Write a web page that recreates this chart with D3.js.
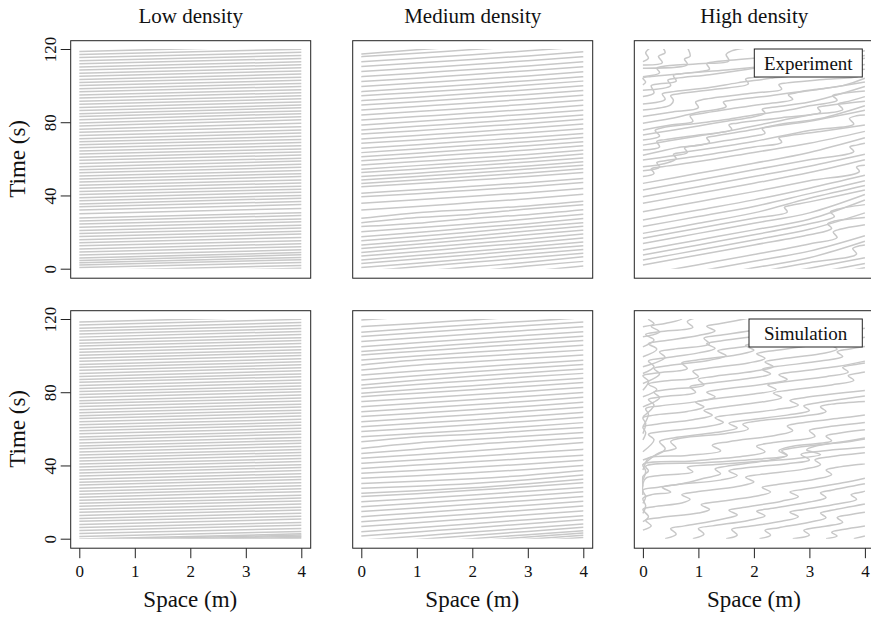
<!DOCTYPE html>
<html>
<head>
<meta charset="utf-8">
<script src="https://d3js.org/d3.v7.min.js"></script>
<title>Trajectories</title>
<style>body{margin:0;background:#fff}</style>
</head>
<body>
<svg width="871" height="617"></svg>
<script>
// low density: [time at x=0, time at x=4]
const lowExp = [[-2.8,0.2],[-1.2,1.8],[0.6,3.4],[2.0,4.9],[3.3,6.1],[4.5,7.6],[5.9,8.8],[7.5,10.3],[9.1,12.0],[10.8,13.6],[12.5,15.3],[14.2,17.1],[15.8,18.9],[17.6,20.4],[19.2,22.2],[20.9,23.8],[22.6,25.6],[24.4,27.2],[26.0,29.1],[27.7,30.6],[30.0,32.9],[32.1,35.0],[33.8,36.7],[35.4,38.5],[37.1,40.0],[38.8,41.8],[40.5,43.4],[42.2,45.1],[43.9,46.8],[45.6,48.5],[47.3,50.3],[49.0,51.9],[50.7,53.6],[52.4,55.4],[54.1,57.0],[55.7,58.8],[57.5,60.3],[59.2,62.1],[60.9,63.8],[62.6,65.4],[64.3,67.2],[66.0,68.9],[67.7,70.6],[69.4,72.3],[71.0,74.1],[72.8,75.7],[74.5,77.6],[76.1,79.5],[77.9,81.3],[79.6,83.0],[81.4,84.7],[83.1,86.2],[84.7,87.9],[86.4,89.4],[88.1,91.1],[89.8,92.8],[91.5,94.4],[93.2,96.1],[94.9,97.8],[96.6,99.5],[98.3,101.2],[100.0,102.9],[101.7,104.6],[103.4,106.3],[105.1,108.0],[106.8,109.7],[108.5,111.4],[110.2,113.0],[111.9,114.8],[113.6,116.5],[115.3,118.2],[117.0,119.9],[118.7,121.6]];
const lowSim = [[-2.7,0.1],[-2.05,0.75],[-1.45,1.4],[-0.8,2.0],[-0.2,2.65],[1.2,4.0],[2.9,5.6],[4.5,7.4],[6.1,8.9],[7.8,10.7],[9.5,12.3],[11.1,13.9],[12.7,15.7],[14.4,17.2],[16.1,18.9],[17.7,20.6],[19.3,22.2],[21.0,23.8],[22.6,25.7],[24.3,27.3],[25.9,28.9],[27.6,30.6],[29.3,32.3],[30.9,33.9],[32.5,35.5],[34.2,37.2],[35.9,38.9],[37.5,40.4],[39.1,42.2],[40.8,43.8],[42.5,45.5],[44.1,47.1],[45.7,48.7],[47.4,50.4],[49.1,52.1],[50.7,53.7],[52.3,55.3],[54.0,57.1],[55.6,58.7],[57.3,60.3],[59.0,62.0],[60.6,63.6],[62.2,65.2],[63.9,67.0],[65.6,68.6],[67.2,70.2],[68.8,71.9],[70.5,73.5],[72.2,75.2],[73.8,76.8],[75.4,78.5],[77.1,80.2],[78.8,81.8],[80.4,83.4],[82.0,85.1],[83.7,86.7],[85.4,88.5],[87.0,90.0],[88.6,91.7],[90.3,93.4],[92.0,95.0],[93.6,96.6],[95.2,98.3],[96.9,100.0],[98.6,101.6],[100.2,103.2],[101.8,104.9],[103.5,106.6],[105.2,108.2],[106.8,109.8],[108.4,111.5],[110.1,113.2],[111.8,114.8],[113.4,116.4],[115.0,118.1],[116.7,119.8],[118.4,121.4]];

// medium density: times at x = 0, 1, 2, 3, 4
const medExp = [[-11.5,-9,-6.5,-3.5,-0.5],[-9,-6.5,-4,-1.5,1.5],[-6.5,-4,-1.5,1.5,4],[-4,-1.5,1,3.5,6.5],[-1.5,1,3.5,6,8.5],[0.7,3,5.5,8,10.5],[2.9,5.3,7.6,10.2,12.6],[4.7,7.2,9.5,12,14.6],[6.9,9.2,11.8,14.1,16.8],[8.9,11.4,13.7,16.2,18.9],[11.1,13.4,15.9,18.5,21],[12.9,15.2,17.8,20.6,23.2],[15.3,17.6,20.1,22.8,25.1],[17.5,19.8,22.3,24.6,27.4],[20.2,22.4,24.5,27.1,29.8],[23,24.8,27.6,29.5,32.2],[25.1,27.9,29.8,32.6,34.9],[27.5,30.6,32.4,34.3,36.8],[32.1,34.0,36.1,38.2,40.6],[35.7,37.6,39.6,41.5,43.8],[39.3,41.0,42.9,44.8,47.1],[41.2,43.1,45.0,47.0,49.2],[44.8,46.5,48.4,50.3,52.5],[46.6,48.5,50.3,52.3,54.6],[48.5,50.4,52.3,54.4,56.5],[50.3,52.2,54.2,56.1,58.4],[52.5,54.3,56.3,58.3,60.5],[54.3,56.3,58.1,60.2,62.6],[56.6,58.5,60.4,62.4,64.7],[59,60.9,62.9,64.8,67.1],[61.2,63.1,65.1,67.2,69.4],[63.4,65.4,67.4,69.3,71.6],[65.8,67.7,69.7,71.7,73.9],[68.5,70.3,72.3,74.3,76.4],[70.9,72.8,74.7,76.8,79],[73.6,75.4,77.4,79.3,81.6],[75.8,77.8,79.7,81.8,84],[78.5,80.4,82.4,84.4,86.6],[81.2,83.1,85.0,87.0,89.3],[84,85.8,87.8,89.8,92],[86.7,88.6,90.5,92.6,94.8],[89.4,91.2,93.2,95.2,97.4],[91.8,93.7,95.7,97.7,99.9],[94.4,96.3,98.2,100.3,102.5],[96.7,98.7,100.6,102.7,104.9],[99.5,101.4,103.3,105.3,107.6],[102.2,104.0,106.1,108.1,110.3],[104.9,106.8,108.8,110.7,113],[107.7,109.6,111.5,113.6,115.8],[110.4,112.3,114.3,116.2,118.5],[113.1,115.0,116.9,119.0,121.2],[115.8,117.7,119.7,121.6,124],[117.3,119.6,121.6,123.6,126]];
const medSim = [[-8.1,-5.9,-3.7,-1.5,0.7],[-6.9,-4.7,-2.5,-0.3,1.9],[-5.7,-3.5,-1.3,0.9,3.1],[-4.4,-2.2,0,2.2,4.4],[-2.6,-0.4,1.8,4,6.2],[-0.8,1.4,3.6,5.8,8],[1.5,3.7,5.9,8.2,10.4],[3.8,6.0,8.2,10.4,12.6],[6.6,8.7,10.9,13.1,15.2],[9.3,11.4,13.5,15.7,17.8],[12,14.1,16.2,18.3,20.4],[14.8,16.8,18.8,20.9,23],[17.5,19.4,21.4,23.5,25.6],[20.2,22,23.9,25.9,28],[23,24.6,26.4,28.4,30.6],[24.8,26.2,27.8,30,32.5],[27.5,28.6,30.1,32.2,34.8],[30.2,31.4,32.8,34.7,37.2],[33,34.4,36,37.8,40],[35.7,37.3,39,40.8,42.8],[38.4,40.2,42,43.8,45.6],[41.2,43,44.9,46.9,48.8],[43.9,45.8,47.9,50.2,52.5],[46.6,48.9,51.5,53.4,55.2],[49.3,52.3,54.2,56.1,58],[53,55.6,57.1,58.9,60.8],[55.7,57.4,59.3,61.3,63.4],[58.5,60.3,62.2,64.2,66.3],[61.2,63.0,64.9,66.9,69],[63.9,65.8,67.7,69.7,71.8],[66.7,68.5,70.4,72.4,74.5],[69.4,71.2,73.1,75.1,77.2],[72.1,74,75.9,77.8,79.9],[74.9,76.7,78.6,80.6,82.6],[77.6,79.5,81.4,83.3,85.3],[79.4,81.6,83.6,85.7,87.7],[82.1,84.2,86.3,88.4,90.3],[84,86.6,88.7,90.7,92.7],[86.7,89,91.2,93.2,95.1],[89.4,91.6,93.7,95.6,97.5],[92.2,94.8,96.7,98.5,100.3],[94.9,97.6,99.4,101.2,103],[97.6,99.8,101.8,103.7,105.6],[100.4,102.4,104.4,106.4,108.3],[102.2,104.5,106.6,108.7,110.6],[104.9,107,109.1,111.1,113.1],[107.7,109.8,111.8,113.8,115.8],[110.4,112.5,114.5,116.4,118.3],[112.8,114.9,116.9,118.8,120.7],[115.8,117.6,119.5,121.4,123.3],[119.5,121.4,123.3,125.2,127.1]];

// high density: [x, t] points of each trajectory
const highExp = [
  [[0,-21.5],[3,-5],[4,0.5]],
  [[0,-19.3],[3,-2.8],[4,2.8]],
  [[0,-16.2],[2,-5.2],[3,0.3],[4,6]],
  [[0,-13.2],[2,-2.2],[3,3.3],[3.85,8],[3.78,11],[3.9,12.5],[4,13]],
  [[0,-10.5],[1,-5],[2,0.5],[3,6],[4,15]],
  [[0,-6.9],[1,-1.4],[2,4.1],[3,9.6],[4,18]],
  [[0,-3.3],[1,2.2],[2,7.7],[3,13.5],[3.5,17],[3.43,20],[3.55,21.5],[4,24]],
  [[0,2],[1,7.5],[2,13],[3,18.5],[3.4,22],[3.33,24.5],[3.45,26],[4,28]],
  [[0,4.7],[1,10.2],[2,15.7],[3,21.5],[4,30.5]],
  [[0,7.5],[1,13],[2,18.5],[3,24.5],[3.45,28.5],[3.38,31],[3.5,32.5],[4,35]],
  [[0,10.2],[1,15.7],[2,21.2],[3,27],[4,37.5]],
  [[0,13.8],[1,19.3],[2,24.8],[3,30.5],[4,40.5]],
  [[0,16.6],[1,22.1],[2,27.6],[2.6,31],[2.55,33.5],[2.65,34.5],[3,36.5],[4,43]],
  [[0,19.3],[1,24.8],[2,30.5],[3,38.5],[4,45.5]],
  [[0,23],[1,28.5],[2,34],[3,41],[4,48]],
  [[0,26.6],[1,32.1],[2,37.6],[3,44],[4,51]],
  [[0,31.1],[1,36.6],[2,42.1],[3,48],[3.9,53],[3.85,55.5],[4,56.5]],
  [[0,35.7],[1,41.2],[2,46.7],[3,52.5],[4,59.5]],
  [[0,39.3],[1,44.8],[2,50.3],[3,56],[4,62.5]],
  [[0,43],[1,48.5],[2,54],[3,59.5],[3.8,64],[3.73,66.5],[3.85,67.5],[4,68.5]],
  [[0,46.6],[1,52.1],[2,57.6],[3,63.5],[4,71.5]],
  [[0,50.3],[0.2,52],[0.15,54.5],[0.3,55.5],[1,58.5],[2,63.5],[3,68.5],[4,75]],
  [[0,53.5],[0.3,55.5],[0.25,58],[0.4,59],[1,61.5],[2,66.5],[2.5,69],[2.45,71.5],[2.6,72.5],[3.2,75],[4,78.5]],
  [[0,55.7],[0.4,57.5],[0.6,60],[0.55,62.5],[0.7,63.5],[1.5,67],[2,69.5],[3,75.5],[3.8,79],[3.72,82],[3.85,83.5],[4,84]],
  [[0,59.4],[0.5,61.5],[0.8,63.5],[0.75,66],[0.9,67],[1.5,70],[2,72.5],[2.2,74],[2.15,76.5],[2.3,77.5],[3,80.5],[4,86.5]],
  [[0,62],[0.3,64],[0.6,66],[1.2,69],[1.15,71.5],[1.3,72.5],[2,76],[2.5,79],[3.2,82],[4,89]],
  [[0,64.8],[0.3,66.5],[0.25,69.5],[0.4,70.5],[1,73],[1.6,76],[1.55,78.5],[1.7,79.5],[2.5,82.5],[3.2,85.5],[3.15,88],[3.3,89],[4,91.5]],
  [[0,67.5],[0.5,70],[1,72.5],[1.5,75],[2,78],[2.5,81],[3,84],[3.6,87],[3.52,90],[3.65,91],[4,94]],
  [[0,70.3],[0.3,72.5],[0.22,75.5],[0.35,77],[1,79.5],[1.5,81.5],[2,84],[2.6,86.5],[3,89],[3.5,92],[3.42,94.5],[3.55,95.5],[4,97]],
  [[0,73],[0.5,75.5],[1,78],[1.5,80.5],[2,83],[2.2,85],[2.15,87],[2.3,88],[3,91],[4,99.5]],
  [[0,75.8],[0.5,78.5],[0.9,80.5],[0.85,83.5],[1,84.5],[1.5,87],[2.2,90],[2.7,92.5],[2.62,95],[2.75,96],[3.3,98.5],[4,102]],
  [[0,79.5],[0.5,82],[1,85.5],[1.5,88.5],[1.45,91],[1.6,92],[2.3,94.5],[3,97.5],[3.6,100],[4,104]],
  [[0,83.1],[0.5,85.5],[1,88],[0.95,91],[1.1,92.5],[2,96],[2.5,98],[2.45,100.5],[2.6,101.5],[3.3,103.5],[3.9,105.5],[3.85,108],[4,109]],
  [[0,86.7],[0.5,89.5],[0.55,92],[0.5,94.5],[0.65,95.5],[1.3,98],[1.9,101],[1.85,103.5],[2,104.5],[3,107.5],[4,111.5]],
  [[0,90],[0.4,92.5],[0.35,95.5],[0.5,96.5],[1.2,99],[1.7,101.5],[2.3,104],[2.8,106.5],[2.75,109],[2.9,110],[3.5,112.5],[4,115]],
  [[0,94],[0.2,96],[0.15,100],[0.3,101],[0.6,102.5],[0.55,105.5],[0.7,106.5],[1.5,108.5],[2.5,111.5],[3.5,114.5],[4,116.5]],
  [[0,97.5],[0.5,100],[0.45,103],[0.6,104],[1.2,106],[1.8,108.5],[2.5,112],[3.2,115],[4,119]],
  [[0,100.4],[0.05,102],[0,104],[0.15,105],[1,107.5],[1.2,109],[1.15,112],[1.3,113],[2.2,115.5],[3,118],[4,122]],
  [[0,104.9],[0.3,107],[0.25,109.5],[0.35,110.5],[1,112],[1.55,113.5],[1.5,117],[1.6,119],[2,121]],
  [[0,109.5],[0.8,111.5],[0.75,114.5],[0.85,116],[0.8,121]],
  [[0,111.3],[0.35,112.5],[0.28,116],[0.4,118],[0.35,121]],
  [[0,113.1],[0.1,115],[0.05,118],[0.15,121]]
];
const highSim = [
  [[3.8,0],[4,1.5]],
  [[3.3,0],[3.5,1.5],[3.4,3.5],[3.6,5],[4,7]],
  [[2.7,0],[3.0,2],[2.9,4.5],[3.1,6],[3.6,9],[3.5,11.5],[3.7,13],[4,14.5]],
  [[2.1,0],[2.3,2],[2.2,4.5],[2.45,6],[3.0,9],[3.3,11.5],[3.2,14],[3.4,15.5],[4,19]],
  [[1.5,0],[1.7,2],[1.6,5],[1.85,6.5],[2.5,9.5],[2.8,12],[2.65,14.5],[2.9,16],[3.5,19],[3.85,21.5],[3.75,24],[3.95,25.5],[4,26]],
  [[0.9,0],[1.1,2.5],[1.0,5.5],[1.25,7],[1.9,10],[2.2,12.5],[2.05,15],[2.3,16.5],[3,20],[3.3,22.5],[3.2,25],[3.4,26.5],[4,30]],
  [[0.4,0],[0.6,2.5],[0.5,5.5],[0.75,7],[1.4,10.5],[1.7,13],[1.55,15.5],[1.8,17],[2.5,20.5],[2.8,23],[2.65,25.5],[2.9,27],[3.6,30.5],[4,33]],
  [[0,4.7],[0.15,7],[0.05,10],[0.3,11.5],[1,14],[1.2,16],[1.05,18.5],[1.3,20],[2,23],[2.3,25.5],[2.15,28],[2.4,29.5],[3.1,32.5],[3.4,35],[3.3,37.5],[3.5,39],[4,41]],
  [[0,9.3],[0.1,12],[0,16],[0.2,17.5],[0.7,19.5],[0.85,21.5],[0.7,24],[0.95,25.5],[1.7,28.5],[2,31],[1.85,33.5],[2.1,35],[2.9,38],[3.2,40.5],[3.1,43],[3.3,44.5],[4,47]],
  [[0,13.8],[0.05,18],[0,22],[0.15,24],[0.5,25.5],[0.35,28],[0.6,29.5],[1.4,32],[1.7,34.5],[1.55,37],[1.8,38.5],[2.6,41],[3.0,43],[2.85,46],[3.1,47.5],[4,50]],
  [[0,19.3],[0.05,23],[0,26.5],[0.25,28],[0.7,30],[1.1,33],[1.4,35.5],[1.3,38],[1.5,39.5],[2.3,43],[2.6,45.5],[2.5,48],[2.7,49.5],[3.5,52.5],[4,55]],
  [[0,23.9],[0,30],[0.05,33],[0.3,34.5],[0.9,36.5],[0.8,39],[1.3,40.5],[2.2,42.5],[2.8,44],[3.2,46],[2.95,48.5],[3.1,50.5],[3.7,53],[4,54.5]],
  [[0,28.4],[0,34],[0.1,37],[0.05,39.5],[1.1,41.5],[2.1,43.5],[2.6,45.5],[2.45,48],[2.7,50.5],[3.4,53.5],[3.3,56],[3.5,57.5],[4,59.5]],
  [[0,32.1],[0.05,37],[0,40.5],[0.9,42.5],[1.8,45],[2.2,47.5],[2.05,50.5],[2.35,52.5],[3.1,56],[3,59],[3.2,60.5],[4,63.5]],
  [[0,37.5],[0.05,41.5],[0.1,44],[0.8,45.5],[1.4,48],[1.25,51],[1.55,53],[2.4,56.5],[2.7,59],[2.6,61.5],[2.8,63],[3.6,66],[4,67.5]],
  [[0,40.3],[0.3,47],[0.6,49.5],[0.5,53],[0.7,55],[1.5,57.5],[1.9,60],[1.8,62.5],[2,64],[2.9,67],[3.3,69.5],[3.2,72],[3.4,73.5],[4,75]],
  [[0,43],[0.4,49],[0.3,53],[0.55,55],[1.3,58],[1.7,60.5],[1.55,63],[1.8,64.5],[2.6,67.5],[3,70],[2.9,72.5],[3.1,74],[4,78]],
  [[0,47.5],[0.2,54],[0.1,57],[0.35,58.5],[1.1,61],[1.45,63.5],[1.3,66],[1.55,67.5],[2.4,70.5],[2.8,73],[2.65,75.5],[2.9,77],[3.7,80],[4,81]],
  [[0,54],[0.05,58],[0,61],[0.25,62.5],[0.9,65],[1.25,67.5],[1.1,70],[1.35,71.5],[2.1,74.5],[2.5,77],[2.35,79.5],[2.6,81],[3.4,84],[3.8,86.5],[3.7,89],[3.9,90.5],[4,91]],
  [[0,57.4],[0.05,63],[0,66],[0.2,67.5],[0.8,69.5],[1.1,72],[0.95,74.5],[1.2,76],[2,79],[2.4,81.5],[2.25,84],[2.5,85.5],[3.3,88.5],[3.7,91],[3.6,93.5],[3.8,95],[4,96]],
  [[0,61.2],[0.1,68],[0.05,71],[0.3,72.5],[1,75],[1.3,77.5],[1.15,80],[1.4,81.5],[2.2,84.5],[2.6,87],[2.45,89.5],[2.7,91],[3.5,94],[4,97]],
  [[0,66.6],[0.2,73],[0.1,76],[0.35,77.5],[0.95,80],[0.85,83],[1.1,84.5],[1.9,87.5],[2.3,90],[2.15,92.5],[2.4,94],[3.2,97],[3.6,99.5],[3.5,102],[3.7,103.5],[4,105]],
  [[0,72],[0.3,77],[0.2,80],[0.45,81.5],[1.1,84],[1,87],[1.25,88.5],[2,91.5],[2.35,94],[2.2,96.5],[2.45,98],[3.2,101],[3.5,103.5],[3.4,106],[3.6,107.5],[4,110]],
  [[0,77.5],[0.25,81.5],[0.1,84.5],[0.35,86],[1,88.5],[0.9,91.5],[1.15,93],[1.9,96],[2.2,98.5],[2.05,101],[2.3,102.5],[3,105.5],[3.3,108],[3.2,110.5],[3.4,112],[4,115]],
  [[0,81.1],[0.1,86],[0,89],[0.25,90.5],[0.8,93],[0.7,96],[0.95,97.5],[1.7,100.5],[2,103],[1.85,105.5],[2.1,107],[2.8,110],[3.1,112.5],[3,115],[3.2,116.5],[3.9,120],[4,121]],
  [[0,84.8],[0.3,90],[0.2,93],[0.45,94.5],[1.2,97.5],[1.5,100],[1.35,102.5],[1.6,104],[2.3,107],[2.6,109.5],[2.45,112],[2.7,113.5],[3.4,117],[3.7,120],[3.8,121]],
  [[0,90.2],[0.2,94],[0.1,97],[0.35,98.5],[1,101.5],[1.3,104],[1.15,106.5],[1.4,108],[2.1,111],[2.4,113.5],[2.25,116],[2.5,117.5],[3.2,121]],
  [[0,93.9],[0.4,99],[0.3,102],[0.55,103.5],[1.2,106.5],[1.1,109.5],[1.35,111],[2,114],[2.3,116.5],[2.2,119],[2.4,121]],
  [[0,99.4],[0.25,103.5],[0.1,106.5],[0.35,108],[1,111],[1.3,113.5],[1.15,116],[1.4,117.5],[2,121]],
  [[0,104.8],[0.2,108.5],[0.05,111.5],[0.3,113],[0.9,115.5],[0.8,118.5],[1,121]],
  [[0,110.3],[0.3,113],[0.15,116],[0.4,117.5],[0.7,120],[0.65,121]],
  [[0,115.8],[0.2,117.5],[0.1,120],[0.15,121]]
];

const columns = ["Low density", "Medium density", "High density"];
const rows = ["Experiment", "Simulation"];
const xTicks = [0, 1, 2, 3, 4];
const yTicks = [0, 40, 80, 120];

const svg = d3.select("svg");
const font = "'Liberation Serif', 'DejaVu Serif', serif";
const boxW = 240, boxH = 237.5;
const colX = [70.7, 352.7, 634.3], rowY = [40.7, 310.7];

const x = d3.scaleLinear().domain([0, 4]).range([8.6, 230.6]);
const y = d3.scaleLinear().domain([0, 120]).range([228, 8.3]);

const panels = [
  {r: 0, c: 0, data: lowExp, kind: "low"},
  {r: 0, c: 1, data: medExp, kind: "med"},
  {r: 0, c: 2, data: highExp, kind: "high"},
  {r: 1, c: 0, data: lowSim, kind: "low"},
  {r: 1, c: 1, data: medSim, kind: "med"},
  {r: 1, c: 2, data: highSim, kind: "high"}
];

function toPoints(d, kind) {
  if (kind === "low") return [[0, d[0]], [4, d[1]]];
  if (kind === "med") return d.map((t, i) => [i, t]);
  return d;
}

panels.forEach(function(p, i) {
  const g = svg.append("g").attr("transform", `translate(${colX[p.c]},${rowY[p.r]})`);

  g.append("clipPath").attr("id", "clip" + i)
    .append("rect")
    .attr("x", x(0) - 1).attr("y", y(120))
    .attr("width", x(4) - x(0) + 2).attr("height", y(0) - y(120));

  const line = d3.line()
    .x(d => x(d[0])).y(d => y(d[1]))
    .curve(p.kind === "high" ? d3.curveCatmullRom.alpha(0.5) : p.kind === "med" ? d3.curveMonotoneX : d3.curveLinear);

  g.append("g").attr("clip-path", `url(#clip${i})`)
    .selectAll("path")
    .data(p.data)
    .enter().append("path")
    .attr("d", d => line(toPoints(d, p.kind)))
    .attr("fill", "none")
    .attr("stroke", "#c8c8c8")
    .attr("stroke-width", 1.5);

  g.append("rect")
    .attr("width", boxW).attr("height", boxH)
    .attr("fill", "none").attr("stroke", "#222").attr("stroke-width", 1);

  if (p.c === 0) {
    const ax = g.append("g").call(d3.axisLeft(y).tickValues(yTicks).tickFormat(d3.format("d")).tickSize(10).tickSizeOuter(0));
    ax.select(".domain").remove();
    ax.selectAll("line").attr("stroke", "#222");
    ax.selectAll("text")
      .attr("x", null).attr("dy", null).attr("y", null)
      .attr("transform", "translate(-20.5,0) rotate(-90)")
      .attr("text-anchor", "middle")
      .attr("dominant-baseline", "central")
      .style("font-family", font).style("font-size", "17px").attr("fill", "#111");

    g.append("text")
      .attr("transform", `translate(${18 - colX[0]},${(y(0) + y(120)) / 2}) rotate(-90)`)
      .attr("text-anchor", "middle").attr("dominant-baseline", "central")
      .style("font-family", font).style("font-size", "23px").attr("fill", "#111")
      .text("Time (s)");
  }

  if (p.r === 1) {
    const ax = g.append("g").attr("transform", `translate(0,${boxH})`)
      .call(d3.axisBottom(x).tickValues(xTicks).tickFormat(d3.format("d")).tickSize(10).tickSizeOuter(0).tickPadding(7));
    ax.select(".domain").remove();
    ax.selectAll("line").attr("stroke", "#222");
    ax.selectAll("text").style("font-family", font).style("font-size", "17px").attr("fill", "#111");

    g.append("text")
      .attr("x", (x(0) + x(4)) / 2).attr("y", 607 - rowY[1])
      .attr("text-anchor", "middle")
      .style("font-family", font).style("font-size", "23px").attr("fill", "#111")
      .text("Space (m)");
  }

  if (p.r === 0) {
    g.append("text")
      .attr("x", boxW / 2).attr("y", 23 - rowY[0])
      .attr("text-anchor", "middle")
      .style("font-family", font).style("font-size", "21px").attr("fill", "#111")
      .text(columns[p.c]);
  }

  if (p.c === 2) {
    const lw = p.r === 0 ? 108 : 113.3;
    const lg = g.append("g").attr("transform", `translate(${228 - lw},8.3)`);
    lg.append("rect").attr("width", lw).attr("height", 28)
      .attr("fill", "#fff").attr("stroke", "#222").attr("stroke-width", 1);
    lg.append("text")
      .attr("x", lw / 2).attr("y", 14)
      .attr("text-anchor", "middle").attr("dominant-baseline", "central")
      .style("font-family", font).style("font-size", "19px").attr("fill", "#111")
      .text(rows[p.r]);
  }
});
</script>
</body>
</html>
